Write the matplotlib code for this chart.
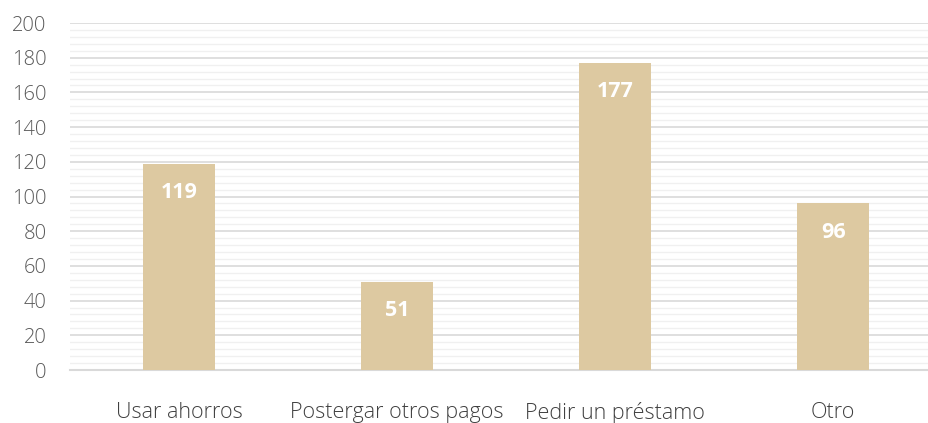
import matplotlib
matplotlib.use("Agg")
import matplotlib.pyplot as plt
from matplotlib.ticker import MultipleLocator

categories = ["Usar ahorros", "Postergar otros pagos", "Pedir un préstamo", "Otro"]
values = [119, 51, 177, 96]
yticks = [0, 20, 40, 60, 80, 100, 120, 140, 160, 180, 200]

plt.rcParams['font.family'] = ['Open Sans', 'DejaVu Sans']

fig = plt.figure(figsize=(9.29, 4.23), dpi=100)
ax = fig.add_axes([70/929, 1-370/423, 1-70/929, (370-23)/423])

x = list(range(len(categories)))
bars = ax.bar(x, values, width=0.33, color="#DDC9A1", zorder=3)

ax.set_ylim(0, 200)
ax.set_xlim(-0.5, 3.44)
ax.set_yticks(yticks)
ax.yaxis.set_minor_locator(MultipleLocator(4))
ax.grid(axis='y', which='major', color="#D9D9D9", linewidth=1.2, zorder=0)
ax.grid(axis='y', which='minor', color="#F0F0F0", linewidth=1.0, zorder=0)
ax.set_axisbelow(True)
for s in ['top', 'right', 'left']:
    ax.spines[s].set_visible(False)
ax.spines['bottom'].set_color("#D9D9D9")
ax.spines['bottom'].set_linewidth(1.5)
ax.tick_params(axis='both', which='both', length=0)
ax.tick_params(axis='y', labelsize=14.5, labelcolor="#595959", pad=17)
ax.tick_params(axis='x', labelsize=15.5, labelcolor="#404040", pad=23)
ax.set_xticks(x)
ax.set_xticklabels(categories)
for lbl in ax.get_yticklabels() + ax.get_xticklabels():
    lbl.set_fontweight('light')

for xi, v in zip(x, values):
    ax.text(xi, v - 16.5, str(v), ha='center', va='center', color='white',
            fontsize=15.5, fontweight='bold', zorder=4)

fig.savefig("out.png", dpi=100)
